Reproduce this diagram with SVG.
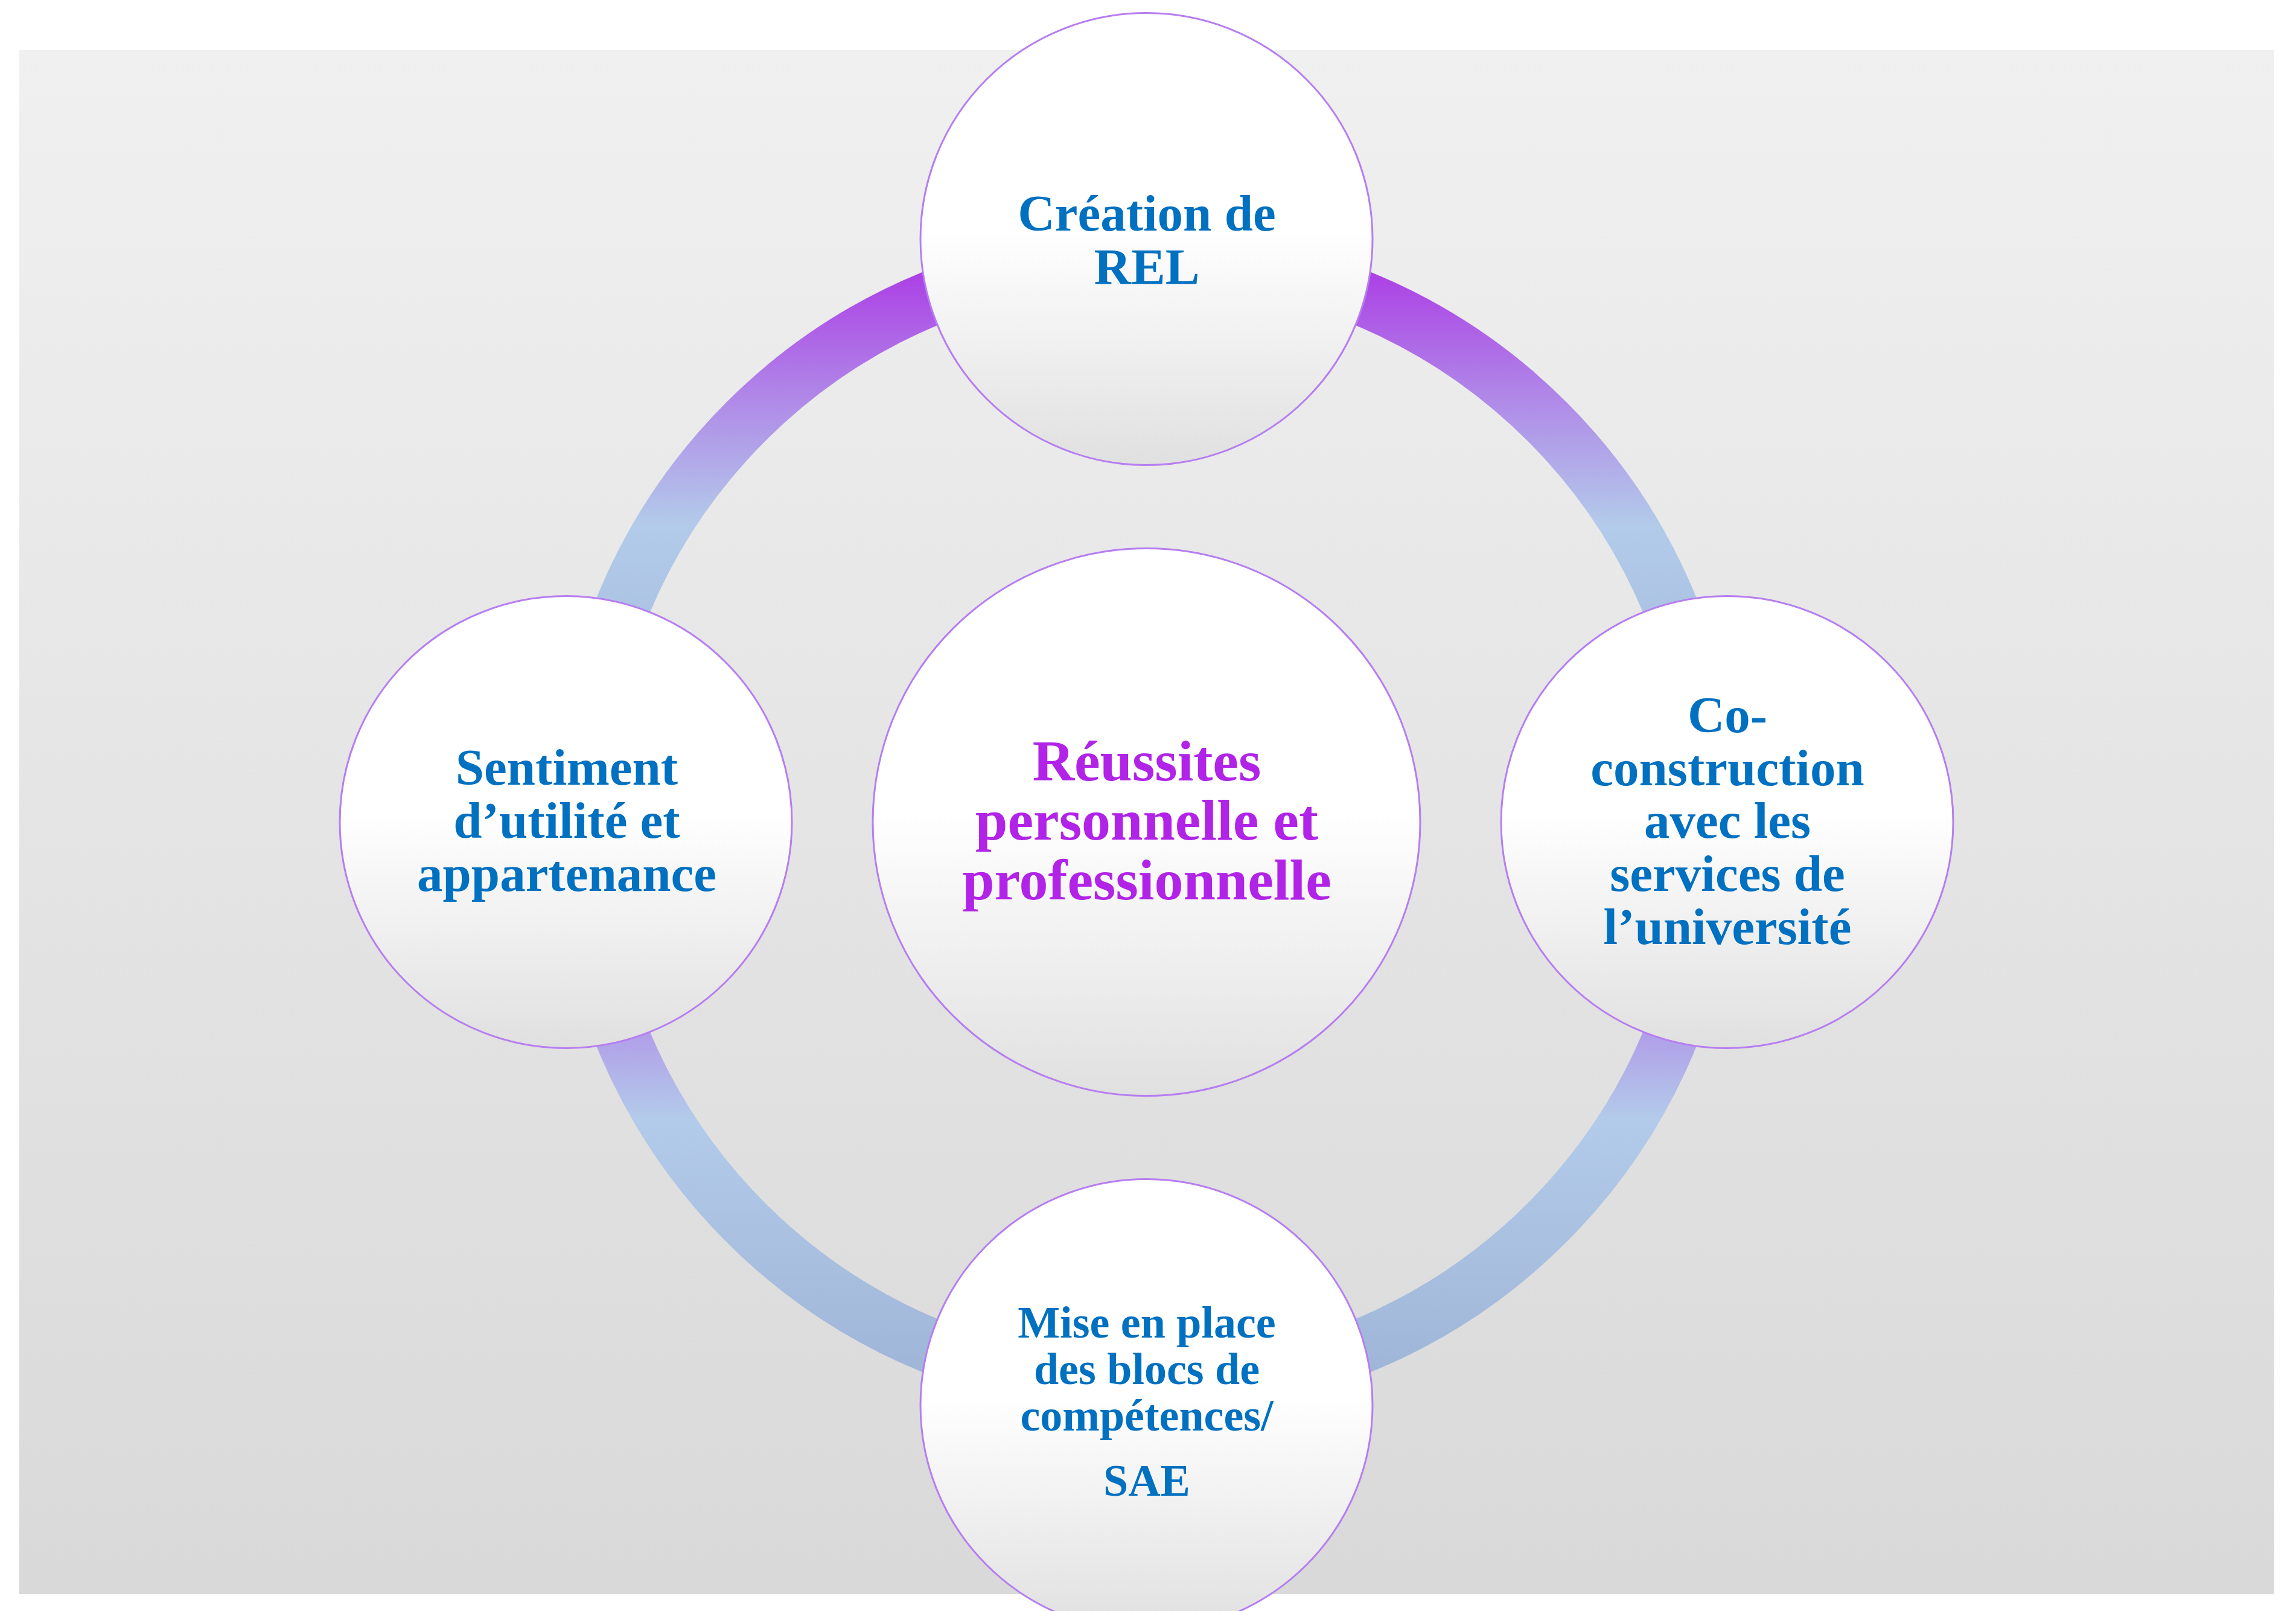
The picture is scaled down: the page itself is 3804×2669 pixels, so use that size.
<svg xmlns="http://www.w3.org/2000/svg" width="3804" height="2669" viewBox="0 0 3804 2669">
  <defs>
    <linearGradient id="bg" x1="0" y1="0" x2="0" y2="1">
      <stop offset="0" stop-color="#f0f0f0"/>
      <stop offset="1" stop-color="#d9d9d9"/>
    </linearGradient>
    <linearGradient id="nodeFill" x1="0" y1="0" x2="0" y2="1">
      <stop offset="0" stop-color="#ffffff"/>
      <stop offset="0.48" stop-color="#ffffff"/>
      <stop offset="1" stop-color="#e0e0e0"/>
    </linearGradient>
    <linearGradient id="arcTop" gradientUnits="userSpaceOnUse" x1="0" y1="378" x2="0" y2="1362">
      <stop offset="0" stop-color="#ab27e4"/>
      <stop offset="0.3" stop-color="#b08de8"/>
      <stop offset="0.5" stop-color="#b3cbea"/>
      <stop offset="1" stop-color="#9cb2d5"/>
    </linearGradient>
    <linearGradient id="arcBottom" gradientUnits="userSpaceOnUse" x1="0" y1="1362" x2="0" y2="2346">
      <stop offset="0" stop-color="#ab27e4"/>
      <stop offset="0.3" stop-color="#b08de8"/>
      <stop offset="0.5" stop-color="#b3cbea"/>
      <stop offset="1" stop-color="#9cb2d5"/>
    </linearGradient>
  </defs>
  <style>
    .node { fill: url(#nodeFill); stroke: #b67ef0; stroke-width: 3; }
    .arc { fill: none; stroke-width: 91; stroke-linecap: butt; }
    .lbl { font-family: "Liberation Serif", "Times New Roman", serif; font-weight: bold; font-size: 85px; fill: #0070c0; text-anchor: middle; }
    .small { font-size: 74px; }
    .main { font-size: 96px; fill: #b123e6; }
  </style>

  <rect x="32" y="83" width="3736" height="2558" fill="url(#bg)"/>

  <g id="connectors">
    <path class="arc" stroke="url(#arcTop)" d="M 961 1362 A 938.5 938.5 0 0 1 1899.5 423.5"/>
    <path class="arc" stroke="url(#arcTop)" d="M 1899.5 423.5 A 938.5 938.5 0 0 1 2838 1362"/>
    <path class="arc" stroke="url(#arcBottom)" d="M 2838 1362 A 938.5 938.5 0 0 1 1899.5 2300.5"/>
    <path class="arc" stroke="url(#arcBottom)" d="M 1899.5 2300.5 A 938.5 938.5 0 0 1 961 1362"/>
  </g>

  <g id="node-center">
    <circle class="node" cx="1899.5" cy="1362" r="453.5"/>
    <text class="lbl main" x="1900" y="1293">Réussites</text>
    <text class="lbl main" x="1900" y="1391">personnelle et</text>
    <text class="lbl main" x="1900" y="1490">professionnelle</text>
  </g>

  <g id="node-top">
    <circle class="node" cx="1899.5" cy="396" r="374.5"/>
    <text class="lbl" x="1900" y="382">Création de</text>
    <text class="lbl" x="1900" y="471">REL</text>
  </g>

  <g id="node-right">
    <circle class="node" cx="2861.5" cy="1362" r="374.5"/>
    <text class="lbl" x="2862" y="1213">Co-</text>
    <text class="lbl" x="2862" y="1301">construction</text>
    <text class="lbl" x="2862" y="1388">avec les</text>
    <text class="lbl" x="2862" y="1476">services de</text>
    <text class="lbl" x="2862" y="1564">l’université</text>
  </g>

  <g id="node-bottom">
    <circle class="node" cx="1899.5" cy="2328" r="374.5"/>
    <text class="lbl small" x="1900" y="2216">Mise en place</text>
    <text class="lbl small" x="1900" y="2293">des blocs de</text>
    <text class="lbl small" x="1900" y="2370">compétences/</text>
    <text class="lbl small" x="1900" y="2478">SAE</text>
  </g>

  <g id="node-left">
    <circle class="node" cx="937.5" cy="1362" r="374.5"/>
    <text class="lbl" x="939" y="1300">Sentiment</text>
    <text class="lbl" x="939" y="1388">d’utilité et</text>
    <text class="lbl" x="939" y="1476">appartenance</text>
  </g>
</svg>
